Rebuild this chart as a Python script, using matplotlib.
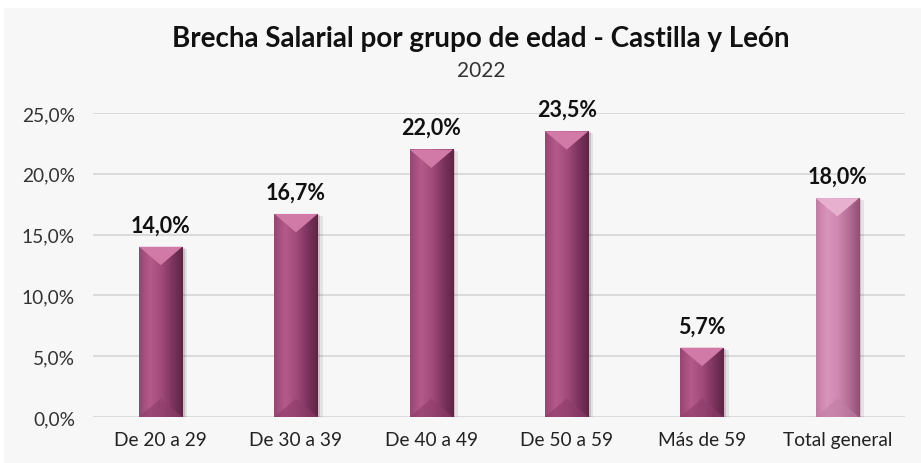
import matplotlib.pyplot as plt
import numpy as np
from matplotlib.colors import LinearSegmentedColormap
from matplotlib.patches import Polygon, Rectangle

# Data
categories = ['De 20 a 29', 'De 30 a 39', 'De 40 a 49', 'De 50 a 59', 'Más de 59', 'Total general']
brecha = [14.0, 16.7, 22.0, 23.5, 5.7, 18.0]
y_ticks = [0, 5, 10, 15, 20, 25]

plt.rcParams['font.family'] = ['Lato', 'DejaVu Sans']

W, H = 921, 464
fig = plt.figure(figsize=(W / 100, H / 100), dpi=100, facecolor='white')
fig.patches.append(Rectangle((4 / W, 0), 1, 1 - 9 / H, transform=fig.transFigure,
                             facecolor='#f7f7f7', edgecolor='none', zorder=-10))
ax = fig.add_axes([93 / W, (H - 418) / H, (905 - 93) / W, (418 - 114) / H])
ax.set_facecolor('none')

x = np.arange(len(categories))
ax.set_xlim(-0.5, len(categories) - 0.5)
ax.set_ylim(0, 25)

for t in y_ticks:
    ax.axhline(t, color='#d9d9d9', lw=1.3, zorder=0)

normal = LinearSegmentedColormap.from_list('n', ['#9a4474', '#b45a8a', '#a24c7c', '#7e3560', '#5e2444'])
light = LinearSegmentedColormap.from_list('l', ['#c47ba4', '#d994bc', '#cf88b1', '#b46e96', '#8f4f73'])
tops = ['#d17aa8'] * 5 + ['#e8b0cf']
bottoms = ['#8e3c6a'] * 5 + ['#c07ea3']

bars = ax.bar(x, brecha, width=0.32, color='none', zorder=3)

# pixels per data unit
p0 = ax.transData.transform((0, 0))
p1 = ax.transData.transform((1, 1))
px_x = p1[0] - p0[0]
px_y = p1[1] - p0[1]
grad = np.linspace(0, 1, 256).reshape(1, -1)

for i, r in enumerate(bars):
    x0, w, h = r.get_x(), r.get_width(), r.get_height()
    cmap = light if i == len(bars) - 1 else normal
    # shadow
    ax.add_patch(Rectangle((x0 + 5 / px_x, 0), w, h - 2 / px_y, facecolor='#000000',
                           alpha=0.08, edgecolor='none', zorder=2))
    ax.add_patch(Rectangle((x0 + 2.5 / px_x, 0), w, h - 1 / px_y, facecolor='#000000',
                           alpha=0.14, edgecolor='none', zorder=2))
    im = ax.imshow(grad, extent=(x0, x0 + w, 0, h), aspect='auto', cmap=cmap, zorder=3)
    im.set_clip_path(r)
    ax.add_patch(r)
    d = (w * px_x / 2) * 0.85 / px_y
    d = min(d, h / 2)
    ax.add_patch(Polygon([(x0, h), (x0 + w, h), (x0 + w / 2, h - d)], closed=True,
                         facecolor=tops[i], edgecolor='none', zorder=4))
    ax.add_patch(Polygon([(x0, 0), (x0 + w, 0), (x0 + w / 2, d)], closed=True,
                         facecolor=bottoms[i], edgecolor='none', alpha=0.6, zorder=4))
    ax.annotate(f'{brecha[i]:.1f}%'.replace('.', ','), (x[i], h), xytext=(0, 11),
                textcoords='offset points', ha='center', va='baseline',
                fontsize=15.5, fontweight='bold', color='#111111')

ax.set_xticks(x)
ax.set_xticklabels(categories, fontsize=13.8, color='#222222')
ax.set_yticks(y_ticks)
ax.set_yticklabels([f'{t:.1f}%'.replace('.', ',') for t in y_ticks], fontsize=13.8, color='#333333')
ax.tick_params(axis='y', length=0, pad=13)
ax.tick_params(axis='x', length=0, pad=10)
for s in ax.spines.values():
    s.set_visible(False)

fig.text(481 / W, 1 - 47 / H, 'Brecha Salarial por grupo de edad - Castilla y León', ha='center',
         va='baseline', fontsize=20, fontweight='bold', color='#111111')
fig.text(481 / W, 1 - 77 / H, '2022', ha='center', va='baseline', fontsize=15, color='#333333')

fig.savefig('out.png', dpi=100, facecolor=fig.get_facecolor())
